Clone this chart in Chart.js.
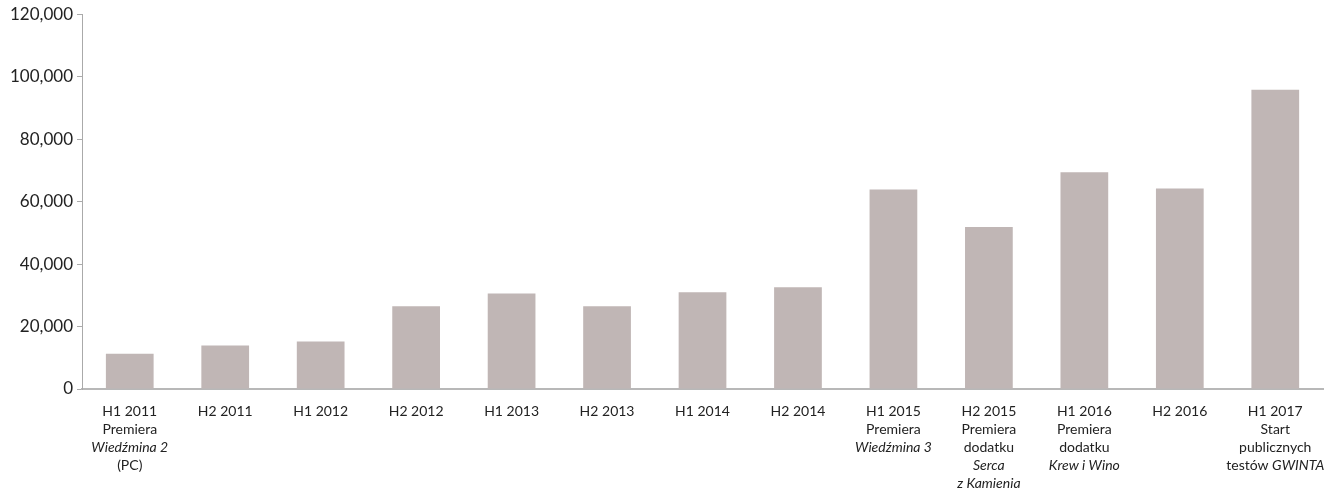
<!DOCTYPE html>
<html>
<head>
<meta charset="utf-8">
<script src="https://cdn.jsdelivr.net/npm/chart.js@4/dist/chart.umd.min.js"></script>
<style>
  html, body { margin: 0; padding: 0; background: #fff; }
  #wrap { width: 1343px; height: 493px; position: relative; }
</style>
</head>
<body>
<div id="wrap"><canvas id="chart"></canvas></div>
<script>
const categories = ['H1 2011', 'H2 2011', 'H1 2012', 'H2 2012', 'H1 2013', 'H2 2013', 'H1 2014',
  'H2 2014', 'H1 2015', 'H2 2015', 'H1 2016', 'H2 2016', 'H1 2017']
const values = [11300, 13900, 15200, 26500, 30600, 26500, 31000, 32600, 63900, 51900, 69400, 64200, 95800]
// extra caption lines under each category, _text_ is drawn in italics
const captions = [
  ['Premiera', '_Wiedźmina 2_', '(PC)'],
  [], [], [], [], [], [], [],
  ['Premiera', '_Wiedźmina 3_'],
  ['Premiera', 'dodatku', '_Serca_', '_z Kamienia_'],
  ['Premiera', 'dodatku', '_Krew i Wino_'],
  [],
  ['Start', 'publicznych', 'testów _GWINTA_'],
]
const yTicks = [0, 20000, 40000, 60000, 80000, 100000, 120000]

const FONT = 'Lato, "Open Sans", sans-serif'
const TEXT = '#222'

function parseLine(line) {
  return line.split('_').map((t, i) => ({ text: t, italic: i % 2 === 1 })).filter(s => s.text)
}

const xLabelPlugin = {
  id: 'xLabels',
  afterDraw(chart) {
    const { ctx, scales: { x }, chartArea } = chart
    ctx.save()
    ctx.fillStyle = TEXT
    ctx.textBaseline = 'middle'
    ctx.textAlign = 'left'
    categories.forEach((cat, i) => {
      const cx = x.getPixelForValue(i)
      const lines = [cat, ...captions[i]]
      lines.forEach((line, j) => {
        const segs = parseLine(line)
        let total = 0
        segs.forEach(s => {
          ctx.font = `${s.italic ? 'italic ' : ''}14px ${FONT}`
          s.w = ctx.measureText(s.text).width
          total += s.w
        })
        let px = cx - total / 2
        const py = chartArea.bottom + 22 + j * 18
        segs.forEach(s => {
          ctx.font = `${s.italic ? 'italic ' : ''}14px ${FONT}`
          ctx.fillText(s.text, px, py)
          px += s.w
        })
      })
    })
    ctx.restore()
  },
}

new Chart(document.getElementById('chart'), {
  type: 'bar',
  data: {
    labels: categories,
    datasets: [{
      data: values,
      backgroundColor: '#c0b6b5',
      barPercentage: 0.5,
      categoryPercentage: 1,
    }],
  },
  options: {
    responsive: true,
    maintainAspectRatio: false,
    animation: false,
    layout: { padding: { top: 8, right: 20, bottom: 96, left: 6 } },
    scales: {
      x: {
        ticks: { display: false },
        grid: { display: false },
        border: { display: true, color: '#b8b8b8', width: 2 },
      },
      y: {
        min: 0,
        max: 120000,
        afterBuildTicks: axis => { axis.ticks = yTicks.map(v => ({ value: v })) },
        ticks: {
          color: TEXT,
          font: { family: FONT, size: 17 },
          padding: 4,
          callback: val => val.toLocaleString('en-US'),
        },
        grid: { display: true, drawOnChartArea: false, drawTicks: true, tickLength: 5, color: '#aaa' },
        border: { display: true, color: '#aaa', width: 1 },
      },
    },
    plugins: {
      legend: { display: false },
      tooltip: { enabled: false },
    },
  },
  plugins: [xLabelPlugin],
})
</script>
</body>
</html>
